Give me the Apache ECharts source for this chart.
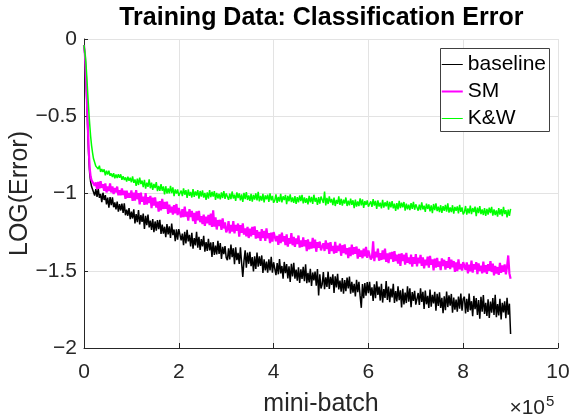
<!DOCTYPE html>
<html>
<head>
<meta charset="utf-8">
<script src="https://cdn.jsdelivr.net/npm/echarts/dist/echarts.min.js"></script>
<style>html,body{margin:0;padding:0;background:#fff}#c{width:572px;height:420px}</style>
</head>
<body>
<div id="c"></div>
<script>
// x positions (units of 1e5 mini-batches)
var xs = [0,0.02,0.04,0.06,0.08,0.1,0.12,0.14,0.16,0.18,
0.2,0.225,0.25,0.275,0.3,0.325,0.35,0.375,0.4,0.425,0.45,0.475,0.5,0.525,0.55,0.575,0.6,0.625,0.65,0.675,0.7,0.725,0.75,0.775,0.8,0.825,0.85,0.875,0.9,0.925,0.95,0.975,1,
1.025,1.05,1.075,1.1,1.125,1.15,1.175,1.2,1.225,1.25,1.275,1.3,1.325,1.35,1.375,1.4,1.425,1.45,1.475,1.5,1.525,1.55,1.575,1.6,1.625,1.65,1.675,1.7,1.725,1.75,1.775,1.8,1.825,1.85,1.875,1.9,1.925,1.95,1.975,2,
2.025,2.05,2.075,2.1,2.125,2.15,2.175,2.2,2.225,2.25,2.275,2.3,2.325,2.35,2.375,2.4,2.425,2.45,2.475,2.5,2.525,2.55,2.575,2.6,2.625,2.65,2.675,2.7,2.725,2.75,2.775,2.8,2.825,2.85,2.875,2.9,2.925,2.95,2.975,3,
3.025,3.05,3.075,3.1,3.125,3.15,3.175,3.2,3.225,3.25,3.275,3.3,3.325,3.35,3.375,3.4,3.425,3.45,3.475,3.5,3.525,3.55,3.575,3.6,3.625,3.65,3.675,3.7,3.725,3.75,3.775,3.8,3.825,3.85,3.875,3.9,3.925,3.95,3.975,4,
4.025,4.05,4.075,4.1,4.125,4.15,4.175,4.2,4.225,4.25,4.275,4.3,4.325,4.35,4.375,4.4,4.425,4.45,4.475,4.5,4.525,4.55,4.575,4.6,4.625,4.65,4.675,4.7,4.725,4.75,4.775,4.8,4.825,4.85,4.875,4.9,4.925,4.95,4.975,5,
5.025,5.05,5.075,5.1,5.125,5.15,5.175,5.2,5.225,5.25,5.275,5.3,5.325,5.35,5.375,5.4,5.425,5.45,5.475,5.5,5.525,5.55,5.575,5.6,5.625,5.65,5.675,5.7,5.725,5.75,5.775,5.8,5.825,5.85,5.875,5.9,5.925,5.95,5.975,6,
6.025,6.05,6.075,6.1,6.125,6.15,6.175,6.2,6.225,6.25,6.275,6.3,6.325,6.35,6.375,6.4,6.425,6.45,6.475,6.5,6.525,6.55,6.575,6.6,6.625,6.65,6.675,6.7,6.725,6.75,6.775,6.8,6.825,6.85,6.875,6.9,6.925,6.95,6.975,7,
7.025,7.05,7.075,7.1,7.125,7.15,7.175,7.2,7.225,7.25,7.275,7.3,7.325,7.35,7.375,7.4,7.425,7.45,7.475,7.5,7.525,7.55,7.575,7.6,7.625,7.65,7.675,7.7,7.725,7.75,7.775,7.8,7.825,7.85,7.875,7.9,7.925,7.95,7.975,8,
8.025,8.05,8.075,8.1,8.125,8.15,8.175,8.2,8.225,8.25,8.275,8.3,8.325,8.35,8.375,8.4,8.425,8.45,8.475,8.5,8.525,8.55,8.575,8.6,8.625,8.65,8.675,8.7,8.725,8.75,8.775,8.8,8.825,8.85,8.875,8.9,8.925,8.95,8.975,9];

var baseline = [-0.04,-0.11,-0.25,-0.41,-0.6,-0.76,-0.87,-0.925,-0.955,-0.965,
-0.951,-1.013,-0.972,-1.022,-0.969,-1.028,-1.003,-1.056,-0.995,-1.042,-1.011,-1.070,-1.027,-1.091,-1.023,-1.075,-1.025,-1.089,-1.057,-1.103,-1.053,-1.118,-1.069,-1.110,-1.066,-1.125,-1.064,-1.141,-1.104,-1.144,-1.095,-1.166,-1.117,
-1.162,-1.102,-1.194,-1.133,-1.185,-1.108,-1.200,-1.139,-1.183,-1.130,-1.230,-1.145,-1.205,-1.136,-1.220,-1.175,-1.235,-1.166,-1.250,-1.181,-1.240,-1.172,-1.231,-1.170,-1.261,-1.201,-1.260,-1.215,-1.282,-1.198,-1.265,-1.212,-1.287,-1.195,-1.270,-1.233,-1.308,-1.232,-1.299,-1.230,
-1.228,-1.303,-1.260,-1.335,-1.248,-1.323,-1.235,-1.310,-1.268,-1.343,-1.255,-1.357,-1.288,-1.336,-1.248,-1.350,-1.281,-1.365,-1.295,-1.343,-1.274,-1.376,-1.315,-1.372,-1.294,-1.369,-1.317,-1.410,-1.314,-1.398,-1.337,-1.394,-1.307,-1.391,-1.321,-1.423,-1.345,-1.393,-1.341,-1.416,
-1.432,-1.355,-1.427,-1.330,-1.412,-1.354,-1.457,-1.349,-1.431,-1.384,-1.456,-1.349,-1.451,-1.540,-1.436,-1.368,-1.480,-1.383,-1.455,-1.378,-1.470,-1.412,-1.505,-1.407,-1.489,-1.382,-1.474,-1.407,-1.469,-1.401,-1.514,-1.426,-1.498,-1.441,-1.513,-1.426,-1.498,-1.410,-1.513,-1.445,
-1.437,-1.529,-1.451,-1.523,-1.425,-1.517,-1.469,-1.551,-1.443,-1.515,-1.457,-1.549,-1.471,-1.573,-1.455,-1.537,-1.449,-1.551,-1.493,-1.565,-1.477,-1.579,-1.491,-1.553,-1.475,-1.567,-1.459,-1.581,-1.513,-1.575,-1.487,-1.599,-1.511,-1.563,-1.505,-1.597,-1.489,-1.660,-1.523,-1.615,
-1.587,-1.509,-1.620,-1.542,-1.604,-1.506,-1.617,-1.539,-1.591,-1.523,-1.644,-1.536,-1.608,-1.520,-1.621,-1.563,-1.635,-1.547,-1.648,-1.560,-1.632,-1.544,-1.615,-1.537,-1.649,-1.571,-1.642,-1.584,-1.666,-1.558,-1.639,-1.571,-1.663,-1.740,-1.586,-1.678,-1.580,-1.662,-1.573,-1.645,
-1.571,-1.661,-1.607,-1.696,-1.587,-1.677,-1.568,-1.657,-1.603,-1.693,-1.584,-1.706,-1.619,-1.676,-1.567,-1.689,-1.602,-1.703,-1.616,-1.672,-1.585,-1.708,-1.632,-1.699,-1.601,-1.691,-1.626,-1.737,-1.617,-1.718,-1.642,-1.709,-1.600,-1.701,-1.614,-1.736,-1.638,-1.695,-1.630,-1.719,
-1.731,-1.644,-1.722,-1.613,-1.702,-1.637,-1.748,-1.628,-1.717,-1.663,-1.741,-1.621,-1.732,-1.656,-1.712,-1.636,-1.758,-1.649,-1.727,-1.640,-1.740,-1.675,-1.775,-1.666,-1.755,-1.635,-1.735,-1.659,-1.726,-1.650,-1.772,-1.674,-1.752,-1.687,-1.765,-1.667,-1.745,-1.647,-1.758,-1.682,
-1.668,-1.777,-1.682,-1.767,-1.647,-1.756,-1.697,-1.794,-1.663,-1.748,-1.677,-1.786,-1.690,-1.811,-1.668,-1.765,-1.658,-1.779,-1.708,-1.793,-1.685,-1.806,-1.699,-1.772,-1.677,-1.786,-1.655,-1.800,-1.716,-1.789,-1.682,-1.815,-1.708,-1.769,-1.698,-1.807,-1.675,-1.784,-1.713,-1.910];

var sm = [-0.04,-0.1,-0.23,-0.38,-0.56,-0.72,-0.835,-0.89,-0.915,-0.925,
-0.905,-0.949,-0.928,-0.971,-0.925,-0.968,-0.920,-0.963,-0.940,-0.983,-0.935,-0.993,-0.955,-0.983,-0.935,-0.993,-0.955,-1.003,-0.965,-0.993,-0.955,-1.012,-0.979,-1.011,-0.968,-1.010,-0.982,-1.034,-0.981,-1.028,-0.996,-1.028,-0.980,
-1.048,-0.994,-1.046,-0.978,-1.037,-0.997,-1.070,-0.995,-1.054,-1.021,-1.073,-0.998,-1.071,-1.024,-1.062,-1.015,-1.095,-1.027,-1.079,-1.025,-1.091,-1.052,-1.117,-1.050,-1.109,-1.035,-1.100,-1.054,-1.099,-1.053,-1.132,-1.072,-1.124,-1.085,-1.136,-1.076,-1.128,-1.068,-1.140,-1.094,
-1.089,-1.155,-1.101,-1.153,-1.085,-1.150,-1.118,-1.176,-1.101,-1.153,-1.113,-1.179,-1.125,-1.197,-1.116,-1.174,-1.113,-1.186,-1.146,-1.198,-1.137,-1.209,-1.149,-1.193,-1.139,-1.205,-1.130,-1.217,-1.109,-1.214,-1.154,-1.233,-1.172,-1.210,-1.170,-1.236,-1.161,-1.226,-1.187,-1.252,
-1.233,-1.179,-1.258,-1.204,-1.247,-1.179,-1.258,-1.204,-1.241,-1.194,-1.280,-1.205,-1.255,-1.194,-1.266,-1.226,-1.277,-1.216,-1.288,-1.227,-1.277,-1.216,-1.267,-1.213,-1.292,-1.238,-1.289,-1.249,-1.306,-1.231,-1.289,-1.242,-1.307,-1.225,-1.290,-1.257,-1.321,-1.253,-1.311,-1.250,
-1.251,-1.309,-1.275,-1.333,-1.264,-1.321,-1.253,-1.310,-1.276,-1.334,-1.265,-1.344,-1.289,-1.325,-1.257,-1.335,-1.280,-1.345,-1.290,-1.327,-1.272,-1.350,-1.303,-1.346,-1.284,-1.342,-1.301,-1.373,-1.297,-1.361,-1.314,-1.357,-1.288,-1.353,-1.298,-1.377,-1.315,-1.351,-1.311,-1.368,
-1.376,-1.322,-1.372,-1.303,-1.360,-1.320,-1.391,-1.315,-1.372,-1.339,-1.389,-1.313,-1.384,-1.337,-1.373,-1.325,-1.403,-1.335,-1.385,-1.330,-1.394,-1.354,-1.418,-1.349,-1.406,-1.331,-1.395,-1.347,-1.390,-1.343,-1.421,-1.359,-1.409,-1.369,-1.419,-1.357,-1.407,-1.346,-1.417,-1.369,
-1.363,-1.427,-1.414,-1.310,-1.438,-1.376,-1.412,-1.357,-1.435,-1.387,-1.430,-1.369,-1.426,-1.357,-1.442,-1.387,-1.451,-1.382,-1.425,-1.378,-1.442,-1.373,-1.437,-1.396,-1.453,-1.391,-1.469,-1.387,-1.437,-1.396,-1.460,-1.384,-1.448,-1.414,-1.457,-1.396,-1.474,-1.412,-1.455,-1.393,
-1.471,-1.416,-1.452,-1.397,-1.468,-1.413,-1.484,-1.428,-1.464,-1.409,-1.480,-1.404,-1.461,-1.427,-1.498,-1.422,-1.479,-1.417,-1.474,-1.440,-1.496,-1.420,-1.470,-1.429,-1.493,-1.438,-1.481,-1.412,-1.490,-1.428,-1.478,-1.437,-1.508,-1.446,-1.502,-1.426,-1.490,-1.456,-1.499,-1.444,
-1.438,-1.494,-1.446,-1.517,-1.461,-1.504,-1.434,-1.512,-1.457,-1.492,-1.444,-1.522,-1.452,-1.502,-1.467,-1.517,-1.441,-1.511,-1.463,-1.520,-1.457,-1.500,-1.437,-1.508,-1.453,-1.530,-1.468,-1.518,-1.476,-1.526,-1.449,-1.513,-1.465,-1.507,-1.459,-1.523,-1.474,-1.401,-1.517,-1.552];

var kw = [-0.04,-0.09,-0.15,-0.25,-0.36,-0.46,-0.55,-0.63,-0.69,-0.735,
-0.774,-0.772,-0.823,-0.813,-0.842,-0.820,-0.860,-0.841,-0.861,-0.844,-0.883,-0.853,-0.877,-0.853,-0.885,-0.870,-0.893,-0.869,-0.901,-0.877,-0.900,-0.875,-0.898,-0.876,-0.911,-0.889,-0.912,-0.896,-0.922,-0.891,-0.917,-0.898,-0.927,
-0.889,-0.931,-0.909,-0.951,-0.903,-0.945,-0.897,-0.939,-0.916,-0.959,-0.911,-0.968,-0.930,-0.957,-0.909,-0.966,-0.929,-0.976,-0.938,-0.965,-0.927,-0.984,-0.951,-0.983,-0.940,-0.982,-0.954,-1.006,-0.953,-1.000,-0.967,-0.999,-0.951,-0.998,-0.960,-1.017,-0.974,-1.001,-0.973,-1.015,
-1.021,-0.981,-1.017,-0.967,-1.008,-0.978,-1.029,-0.974,-1.015,-0.990,-1.026,-0.971,-1.022,-0.987,-1.013,-0.978,-1.034,-0.984,-1.020,-0.980,-1.026,-0.996,-1.042,-0.992,-1.033,-0.978,-1.024,-0.989,-1.020,-0.985,-1.041,-0.996,-1.032,-1.002,-1.038,-0.993,-1.029,-0.984,-1.035,-1.000,
-0.995,-1.041,-1.001,-1.037,-0.987,-1.032,-1.008,-1.048,-0.993,-1.029,-0.999,-1.045,-1.005,-1.055,-0.996,-1.036,-0.991,-1.042,-1.012,-1.048,-1.003,-1.053,-1.009,-1.039,-0.999,-1.045,-0.990,-1.051,-1.016,-1.046,-1.002,-1.057,-1.012,-1.038,-1.008,-1.054,-0.999,-1.044,-1.015,-1.060,
-1.045,-1.006,-1.061,-1.022,-1.052,-1.002,-1.058,-1.018,-1.043,-1.009,-1.069,-1.015,-1.050,-1.005,-1.056,-1.026,-1.061,-1.017,-1.067,-1.023,-1.058,-1.013,-1.049,-1.009,-1.064,-1.025,-1.060,-1.031,-1.071,-1.016,-1.057,-1.022,-1.067,-1.008,-1.053,-1.029,-1.074,-1.024,-1.065,-1.020,
-1.021,-1.061,-0.987,-1.077,-1.028,-1.068,-1.019,-1.059,-1.035,-1.075,-1.026,-1.081,-1.042,-1.067,-1.018,-1.073,-1.034,-1.079,-1.040,-1.065,-1.026,-1.081,-1.047,-1.077,-1.033,-1.073,-1.044,-1.094,-1.040,-1.085,-1.051,-1.081,-1.032,-1.077,-1.038,-1.093,-1.049,-1.074,-1.045,-1.085,
-1.091,-1.051,-1.087,-1.037,-1.078,-1.048,-1.099,-1.044,-1.085,-1.060,-1.096,-1.041,-1.092,-1.057,-1.083,-1.048,-1.104,-1.054,-1.090,-1.050,-1.096,-1.066,-1.112,-1.062,-1.103,-1.048,-1.094,-1.059,-1.090,-1.055,-1.111,-1.066,-1.102,-1.072,-1.108,-1.063,-1.099,-1.054,-1.105,-1.070,
-1.066,-1.111,-1.072,-1.107,-1.058,-1.103,-1.079,-1.119,-1.065,-1.100,-1.071,-1.116,-1.077,-1.127,-1.068,-1.108,-1.064,-1.114,-1.085,-1.120,-1.076,-1.126,-1.082,-1.112,-1.073,-1.118,-1.064,-1.124,-1.090,-1.120,-1.076,-1.131,-1.087,-1.112,-1.083,-1.128,-1.074,-1.119,-1.090,-1.135,
-1.121,-1.081,-1.137,-1.097,-1.128,-1.078,-1.134,-1.094,-1.120,-1.085,-1.146,-1.091,-1.127,-1.082,-1.133,-1.103,-1.139,-1.094,-1.145,-1.100,-1.136,-1.091,-1.127,-1.087,-1.143,-1.103,-1.139,-1.109,-1.150,-1.095,-1.136,-1.101,-1.147,-1.087,-1.133,-1.108,-1.154,-1.104,-1.145,-1.100];

var seriesNames = ['baseline', 'SM', 'K&W'];
var seriesColors = ['#000000', '#ff00ff', '#00ff00'];
var seriesWidths = [1.5, 2.2, 1.5];
var legendWidths = [1, 2, 1];
var seriesValues = [baseline, sm, kw];

var F = 'Liberation Sans, Arial, Helvetica, sans-serif';
var AX = '#262626';
var GRID = '#e3e3e3';

function pairs(vals) { return xs.map(function (x, i) { return [x, vals[i]]; }); }

var chart = echarts.init(document.getElementById('c'), null, {renderer: 'canvas'});
chart.setOption({
  animation: false,
  backgroundColor: '#ffffff',
  grid: {left: 84, right: 14, top: 39, bottom: 72, containLabel: false, outerBoundsMode: 'none'},
  xAxis: {
    type: 'value', min: 0, max: 10, interval: 2,
    name: 'mini-batch', nameLocation: 'middle', nameGap: 44, nameMoveOverlap: false,
    nameTextStyle: {fontFamily: F, fontSize: 25, color: AX},
    axisLine: {show: true, onZero: false, lineStyle: {color: AX, width: 1}},
    axisTick: {show: true, inside: true, length: 5, lineStyle: {color: AX}},
    axisLabel: {fontFamily: F, fontSize: 21, color: AX, margin: 14},
    splitLine: {show: true, lineStyle: {color: GRID, width: 1}}
  },
  yAxis: {
    type: 'value', min: -2, max: 0, interval: 0.5,
    name: 'LOG(Error)', nameLocation: 'middle', nameGap: 51, nameMoveOverlap: false,
    nameTextStyle: {fontFamily: F, fontSize: 25, color: AX},
    axisLine: {show: true, onZero: false, lineStyle: {color: AX, width: 1}},
    axisTick: {show: true, inside: true, length: 4, lineStyle: {color: AX}},
    axisLabel: {fontFamily: F, fontSize: 21, color: AX, margin: 7,
      formatter: function (v) { return String(v).replace('-', '\u2212'); }},
    splitLine: {show: true, lineStyle: {color: GRID, width: 1}}
  },
  legend: {
    orient: 'vertical', right: 23, top: 50,
    padding: [1, 3, 1, 2], itemGap: 0, itemWidth: 21, itemHeight: 10,
    borderWidth: 0, backgroundColor: 'transparent',
    itemStyle: {opacity: 0},
    textStyle: {fontFamily: F, fontSize: 21, lineHeight: 27, color: '#000'},
    data: seriesNames.map(function (n, k) {
      return {name: n, lineStyle: {width: legendWidths[k]}};
    })
  },
  graphic: [
    {type: 'rect', z: 3, silent: true,
     shape: {x: 440.5, y: 48.5, width: 109, height: 83},
     style: {fill: '#ffffff', stroke: '#404040', lineWidth: 1}},
    {type: 'text', x: 321.3, y: 6, z: 100,
     style: {text: 'Training Data: Classification Error', fontFamily: F, fontSize: 25, fontWeight: 'bold', fill: '#000', align: 'center', verticalAlign: 'top'}},
    {type: 'text', x: 545, y: 408, z: 100,
     style: {text: '\u00d710', fontFamily: F, fontSize: 21, fill: AX, align: 'right', verticalAlign: 'middle'}},
    {type: 'text', x: 546, y: 402, z: 100,
     style: {text: '5', fontFamily: F, fontSize: 15, fill: AX, align: 'left', verticalAlign: 'middle'}}
  ],
  series: seriesNames.map(function (n, k) {
    return {
      name: n, type: 'line', showSymbol: false, symbol: 'none',
      data: pairs(seriesValues[k]),
      lineStyle: {color: seriesColors[k], width: seriesWidths[k]},
      itemStyle: {color: seriesColors[k]},
      emphasis: {disabled: true}
    };
  })
});
</script>
</body>
</html>
